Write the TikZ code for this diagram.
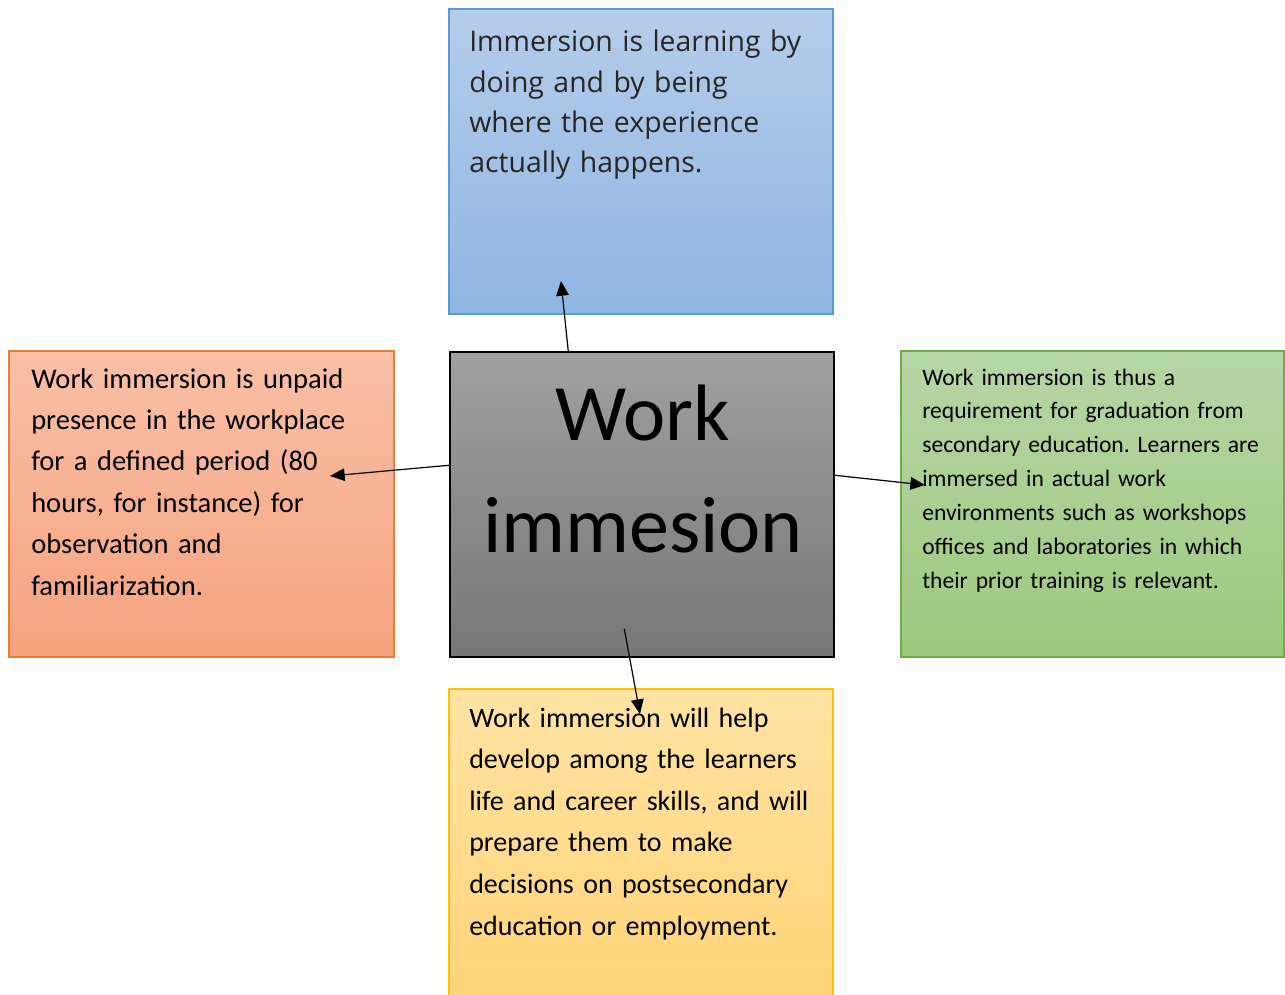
\documentclass[tikz,border=0pt]{standalone}
\usepackage{fontspec}
\setmainfont{Carlito}
\newfontfamily\segoefont{Open Sans}
\usetikzlibrary{arrows.meta,calc}
\definecolor{blueT}{HTML}{B4CDEA}
\definecolor{blueB}{HTML}{8FB5E2}
\definecolor{blueD}{HTML}{5B9BD5}
\definecolor{grayT}{HTML}{A0A0A0}
\definecolor{grayB}{HTML}{777777}
\definecolor{orT}{HTML}{F8C0A7}
\definecolor{orB}{HTML}{F6A37E}
\definecolor{orD}{HTML}{ED7D31}
\definecolor{grT}{HTML}{B6D6A6}
\definecolor{grB}{HTML}{9CC97E}
\definecolor{grD}{HTML}{70AD47}
\definecolor{yeT}{HTML}{FFE3A3}
\definecolor{yeB}{HTML}{FFD478}
\definecolor{yeD}{HTML}{FFC000}
\definecolor{txtgray}{HTML}{262626}
\frenchspacing
\begin{document}
\begin{tikzpicture}[x=0.75pt,y=-0.75pt,
  box/.style={rectangle, inner sep=0pt, line width=0.8pt},
  txt/.style={anchor=base west, inner sep=0pt, align=left},
  arr/.style={-{Triangle[length=11pt,width=9.5pt]}, line width=0.9pt, black}]
\useasboundingbox (0,0) rectangle (1285,995);
% boxes
\node[box, draw=blueD, top color=blueT, bottom color=blueB, minimum width=288pt, minimum height=228.75pt] (t) at (641,161.5) {};
\node[box, draw=black, line width=1.1pt, top color=grayT, bottom color=grayB, minimum width=288pt, minimum height=228.75pt] (c) at (642,504.5) {};
\node[box, draw=orD, top color=orT, bottom color=orB, minimum width=288.75pt, minimum height=229.5pt] (l) at (201.5,504) {};
\node[box, draw=grD, top color=grT, bottom color=grB, minimum width=287.25pt, minimum height=229.5pt] (r) at (1092.5,504) {};
\node[box, draw=yeD, top color=yeT, bottom color=yeB, minimum width=288pt, minimum height=233.25pt] (b) at (641,844.5) {};
% texts
\node[txt, text width=270pt, text=txtgray, font=\segoefont\fontsize{21.3pt}{30.2pt}\selectfont] (tt) at (469,52)
  {Immersion is learning by\\doing and by being\\where the experience\\actually happens.};
\node[anchor=base, inner sep=0pt, align=center, text width=280pt, font=\fontsize{60pt}{84pt}\selectfont] (ct) at (643,440)
  {Work\\immesion};
\node[txt, text width=260pt, font=\fontsize{21.4pt}{31.05pt}\selectfont] (lt) at (31,388)
  {Work immersion is unpaid\\presence in the workplace\\for a defined period (80\\hours, for instance) for\\observation and\\familiarization.};
\node[txt, text width=270pt, font=\fontsize{17.7pt}{25.4pt}\selectfont] (rt) at (922,385)
  {Work immersion is thus a\\requirement for graduation from\\secondary education. Learners are\\immersed in actual work\\environments such as workshops\\offices and laboratories in which\\their prior training is relevant.};
\node[txt, text width=270pt, font=\fontsize{21pt}{31.2pt}\selectfont] (bt) at (469,727)
  {Work immersion will help\\develop among the learners\\life and career skills, and will\\prepare them to make\\decisions on postsecondary\\education or employment.};
% arrow end points
\coordinate (pT) at (561,281);
\coordinate (pL) at (330,476);
\coordinate (pR) at (925,485);
\coordinate (pB) at (640,714);
\draw[arr] ($(c.north west)+(119,0)$) -- (pT);
\draw[arr] ($(c.north west)+(0,114)$) -- (pL);
\draw[arr] ($(c.north east)+(0,124)$) -- (pR);
\draw[arr] ($(c.south west)+(175,-29)$) -- (pB);
\end{tikzpicture}
\end{document}
